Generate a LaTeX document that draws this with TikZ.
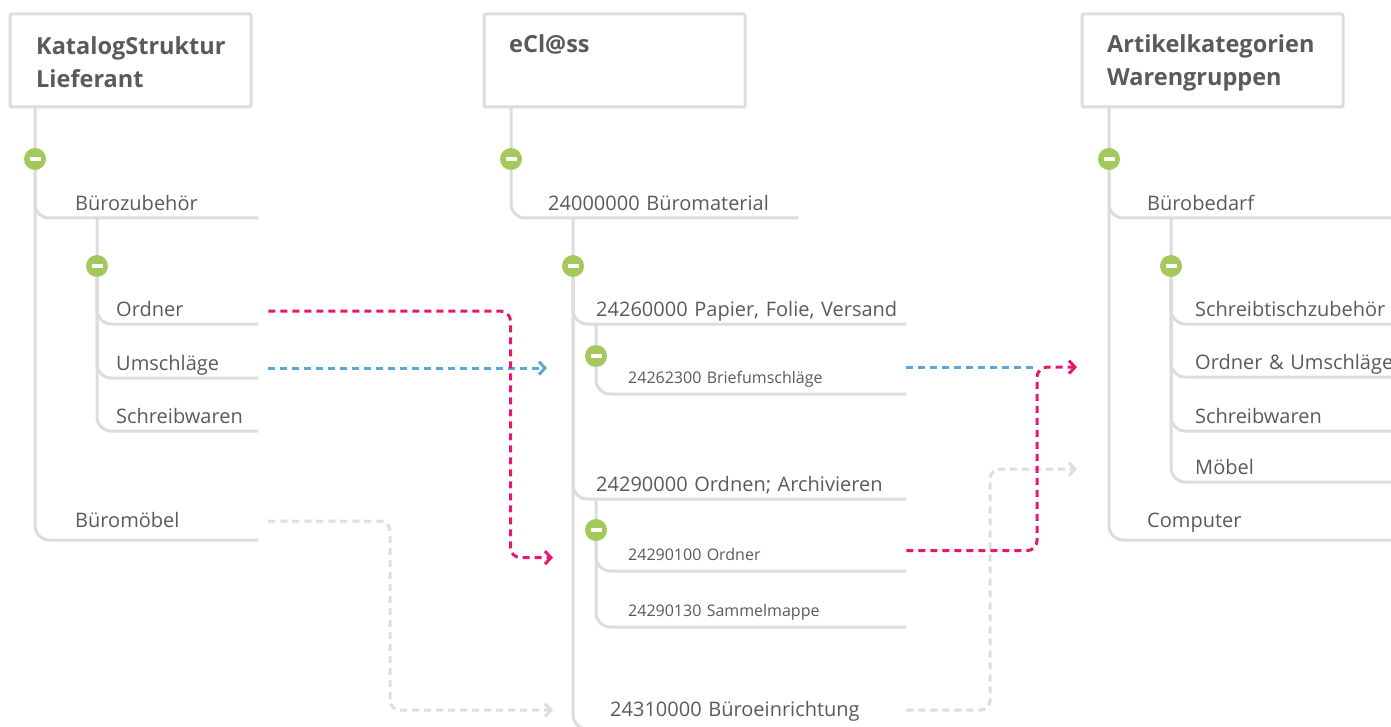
\documentclass[tikz,border=0pt]{standalone}
\usepackage{fontspec}
\setmainfont{Open Sans}
\usetikzlibrary{arrows.meta,calc,backgrounds}

\definecolor{treegray}{HTML}{DCDCDC}
\definecolor{textgray}{HTML}{5A5A5A}
\definecolor{minusgreen}{HTML}{A3C85C}
\definecolor{linkpink}{HTML}{E6176F}
\definecolor{linkblue}{HTML}{5AA7DB}
\definecolor{linkgray}{HTML}{DDDDDD}

\begin{document}
\begin{tikzpicture}[x=1pt,y=-1pt,
  headbox/.style={draw=treegray,line width=3pt,rounded corners=2pt,anchor=north west,
    inner sep=0,outer sep=0,minimum height=93pt},
  headtext/.style={anchor=north west,align=left,inner sep=0,text=textgray,
    font=\bfseries\fontsize{23.5}{33}\selectfont},
  tree/.style={draw=treegray,line width=3pt,rounded corners=14pt},
  minus/.style={circle,fill=minusgreen,minimum size=22pt,inner sep=0,
    path picture={\fill[white] ($(path picture bounding box.center)+(-5.5,-2)$) rectangle ++(11,4);}},
  item/.style={anchor=south west,inner sep=0,text depth=7pt,align=left,text=textgray,
    font=\fontsize{20}{24}\selectfont},
  subitem/.style={item,text depth=10.5pt,font=\fontsize{16}{20}\selectfont},
  link/.style={line width=3pt,dash pattern=on 7pt off 5pt,rounded corners=10pt},
  tip/.style={-{Straight Barb[length=6pt,width=13pt,line width=3pt]}}
]
\useasboundingbox (0,0) rectangle (1391,727);

% header boxes
\node[headbox,minimum width=241pt] (katBox) at (10,14) {};
\node[headbox,minimum width=261pt] (eclBox) at (484,14) {};
\node[headbox,minimum width=261pt] (artBox) at (1082,14) {};
\node[headtext] (katTitle) at ([shift={(26,22)}]katBox.north west) {KatalogStruktur\\Lieferant};
\node[headtext] (eclTitle) at ([shift={(25,20)}]eclBox.north west) {eCl@ss};
\node[headtext] (artTitle) at ([shift={(25,20)}]artBox.north west) {Artikelkategorien\\Warengruppen};

% Lieferant
\node[minus] (kMinusA) at (35,159) {};
\node[minus] (kMinusB) at (97,266) {};
\node[item,text width=183pt] (kBuero) at (75,218) {Bürozubehör};
\node[item,text width=142pt] (kOrdner) at (116,324) {Ordner};
\node[item,text width=142pt] (kUmschl) at (116,378) {Umschläge};
\node[item,text width=142pt] (kSchreib) at (116,431) {Schreibwaren};
\node[item,text width=183pt,text depth=12pt] (kMoebel) at (75,540) {Büromöbel};

% eCl@ss
\node[minus] (eMinusA) at (511,159) {};
\node[minus] (eMinusB) at (573,266) {};
\node[minus] (eMinusC) at (596,356) {};
\node[minus] (eMinusD) at (596,530) {};
\node[item,text width=250pt] (eBuero) at (548,218) {24000000 Büromaterial};
\node[item,text width=310pt] (ePapier) at (596,324) {24260000 Papier, Folie, Versand};
\node[subitem,text width=278pt] (eBrief) at (628,394) {24262300 Briefumschläge};
\node[item,text width=310pt] (eOrdnen) at (596,499) {24290000 Ordnen; Archivieren};
\node[subitem,text width=278pt] (eOrdner) at (628,571) {24290100 Ordner};
\node[subitem,text width=278pt] (eSammel) at (628,627) {24290130 Sammelmappe};
\node[item,text width=296pt,text depth=12pt] (eEinr) at (610,729) {24310000 Büroeinrichtung};

% Artikelkategorien
\node[minus] (aMinusA) at (1109,159) {};
\node[minus] (aMinusB) at (1171,266) {};
\node[item,text width=273pt] (aBuero) at (1147,218) {Bürobedarf};
\node[item,text width=225pt] (aSchreibt) at (1195,324) {Schreibtischzubehör};
\node[item,text width=225pt] (aOrdUm) at (1195,377) {Ordner \& Umschläge};
\node[item,text width=225pt] (aSchreibw) at (1195,431) {Schreibwaren};
\node[item,text width=225pt] (aMoebel) at (1195,482) {Möbel};
\node[item,text width=273pt,text depth=12pt] (aComp) at (1147,540) {Computer};

\begin{scope}[on background layer]
  \draw[tree] (katBox.south -| kMinusA) |- (kMoebel.south east);
  \draw[tree] (kMinusA) |- (kBuero.south east);
  \draw[tree] (kBuero.south -| kMinusB) |- (kSchreib.south east);
  \draw[tree] (kMinusB) |- (kOrdner.south east);
  \draw[tree] (kMinusB) |- (kUmschl.south east);

  \draw[tree] (eclBox.south -| eMinusA) |- (eBuero.south east);
  \draw[tree] (eBuero.south -| eMinusB) |- (eEinr.south east);
  \draw[tree] (eMinusB) |- (ePapier.south east);
  \draw[tree] (eMinusB) |- (eOrdnen.south east);
  \draw[tree] (ePapier.south -| eMinusC) |- (eBrief.south east);
  \draw[tree] (eOrdnen.south -| eMinusD) |- (eSammel.south east);
  \draw[tree] (eMinusD) |- (eOrdner.south east);

  \draw[tree] (artBox.south -| aMinusA) |- (aComp.south east);
  \draw[tree] (aMinusA) |- (aBuero.south east);
  \draw[tree] (aBuero.south -| aMinusB) |- (aMoebel.south east);
  \draw[tree] (aMinusB) |- (aSchreibt.south east);
  \draw[tree] (aMinusB) |- (aOrdUm.south east);
  \draw[tree] (aMinusB) |- (aSchreibw.south east);
\end{scope}

% mappings
\draw[link,tip,draw=linkgray] ([xshift=10pt,yshift=4pt]kMoebel.mid east) -| ($(eEinr.mid west)+(-220,-4)$) -- ([xshift=-57pt,yshift=4pt]eEinr.mid west);
\draw[link,tip,draw=linkblue] ([xshift=10pt]kUmschl.mid east) -- ($(eBrief.west |- kUmschl.mid east)+(-81,0)$);
\draw[link,tip,draw=linkpink] ([xshift=10pt,yshift=3pt]kOrdner.mid east) -| ($(eOrdner.mid west)+(-117.5,0)$) -- ([xshift=-75pt]eOrdner.mid west);

\draw[link,tip,draw=linkgray] ([yshift=4pt]eEinr.mid east) -| ($(aMoebel.mid west)+(-205,-3)$) -- ([xshift=-118pt,yshift=3pt]aMoebel.mid west);
\draw[link,draw=linkblue] (eBrief.east |- aOrdUm.mid west) -- ($(aOrdUm.mid west)+(-158,0)$);
\draw[link,tip,draw=linkpink] ([yshift=7pt]eOrdner.mid east) -| ($(aOrdUm.mid west)+(-158,0)$) -- ([xshift=-118pt]aOrdUm.mid west);
\end{tikzpicture}
\end{document}
